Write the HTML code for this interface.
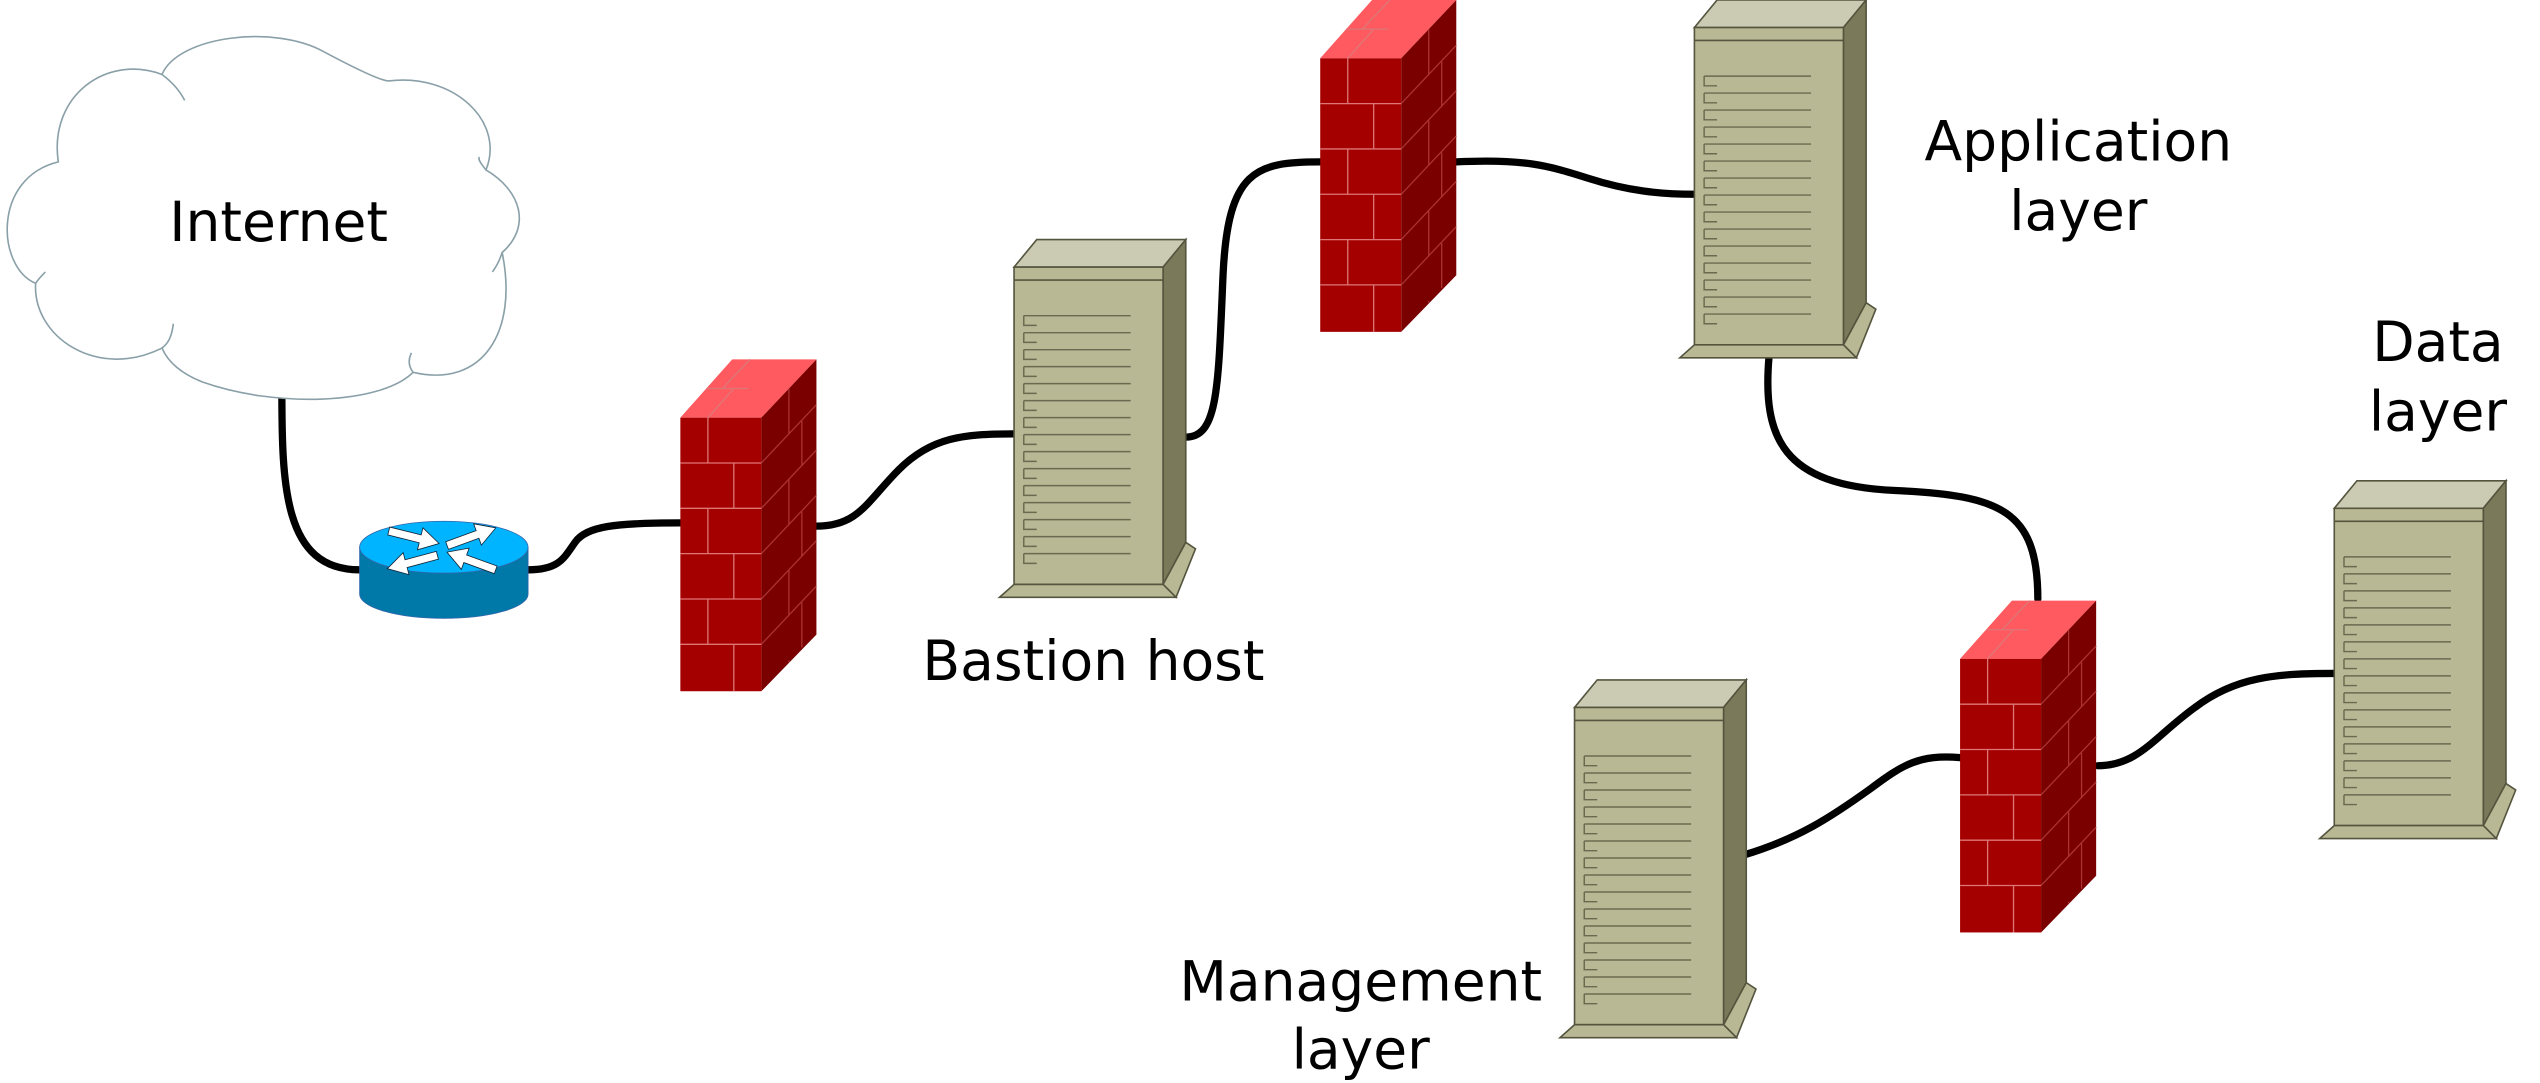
<!DOCTYPE html>
<html><head><meta charset="utf-8"><style>
html,body{margin:0;padding:0;background:#fff;}
svg{display:block;}
text{font-family:"DejaVu Sans","Liberation Sans",sans-serif;font-size:34px;fill:#000;text-anchor:middle;}
</style></head><body>
<svg width="2540" height="1083" viewBox="0 0 1568 669" preserveAspectRatio="none" xmlns="http://www.w3.org/2000/svg">
<defs>
<g id="srv">
  <polygon points="0,0 14,-17 106,-17 92,0" fill="#cbcbb4" stroke="#55553f" stroke-width="1"/>
  <polygon points="92,0 106,-17 106,170 92,196" fill="#7a7a5a" stroke="#55553f" stroke-width="1"/>
  <polygon points="92,196 106,170 112,174 100,204" fill="#b8b894" stroke="#55553f" stroke-width="1"/>
  <rect x="0" y="0" width="92" height="196" fill="#b8b894" stroke="#55553f" stroke-width="1"/>
  <line x1="0" y1="8" x2="92" y2="8" stroke="#55553f" stroke-width="1"/>
  <polygon points="-9,204 100,204 92,196 0,196" fill="#b8b894" stroke="#55553f" stroke-width="1"/>
  <g stroke="#6a6a50" stroke-width="0.9" fill="none">
    <path d="M6,30 H72 M6,30 V36 H14"/><path d="M6,40.5 H72 M6,40.5 V46.5 H14"/>
    <path d="M6,51 H72 M6,51 V57 H14"/><path d="M6,61.5 H72 M6,61.5 V67.5 H14"/>
    <path d="M6,72 H72 M6,72 V78 H14"/><path d="M6,82.5 H72 M6,82.5 V88.5 H14"/>
    <path d="M6,93 H72 M6,93 V99 H14"/><path d="M6,103.5 H72 M6,103.5 V109.5 H14"/>
    <path d="M6,114 H72 M6,114 V120 H14"/><path d="M6,124.5 H72 M6,124.5 V130.5 H14"/>
    <path d="M6,135 H72 M6,135 V141 H14"/><path d="M6,145.5 H72 M6,145.5 V151.5 H14"/>
    <path d="M6,156 H72 M6,156 V162 H14"/><path d="M6,166.5 H72 M6,166.5 V172.5 H14"/>
    <path d="M6,177 H72 M6,177 V183 H14"/>
  </g>
</g>
<g id="fw">
  <polygon points="0,0 32,-36 84,-36 50,0" fill="#ff5a5f"/>
  <polygon points="50,0 84,-36 84,134 50,169" fill="#7a0000"/>
  <rect x="0" y="0" width="50" height="169" fill="#a50000"/>
  <g stroke="#d77" stroke-width="0.8" fill="none">
    <path d="M0,28 H50 M0,56 H50 M0,84 H50 M0,112 H50 M0,140 H50"/>
    <path d="M17,0 V28 M33,28 V56 M17,56 V84 M33,84 V112 M17,112 V140 M33,140 V169"/>
    <path d="M16,-18 H42 M26,-18 L43,-36 M17,0 L33,-18"/>
  </g>
  <g stroke="#a33" stroke-width="0.8" fill="none">
    <path d="M50,28 L84,-8 M50,56 L84,20 M50,84 L84,48 M50,112 L84,76 M50,140 L84,104"/>
    <path d="M67,-18 V10 M67,38 V66 M67,94 V122 M67,150 V151 M75,2 V30 M75,58 V86 M75,114 V142"/>
  </g>
</g>
<polygon id="arr" points="0,-2.5 20,-2.5 20,-7 32,0 20,7 20,2.5 0,2.5" fill="#fff" stroke="#123" stroke-width="0.5"/>
</defs>

<!-- cables -->
<g fill="none" stroke="#000" stroke-width="4.5" stroke-linecap="round">
  <path d="M174,240 C174,300 175,352 222,352"/>
  <path d="M326,352 C345,352 348,345 355,335 C362,325 380,323 420,323"/>
  <path d="M504,325 C530,325 535,310 555,290 C575,270 595,268 626,268"/>
  <path d="M732,270 C752,270 752,240 755,170 C758,105 775,100 815,100"/>
  <path d="M899,100 C940,98 955,102 980,110 C1005,118 1025,120 1046,120"/>
  <path d="M1092,221 C1088,270 1100,300 1170,303 C1235,306 1258,315 1258,370"/>
  <path d="M1210,468 C1185,466 1175,472 1155,487 C1130,505 1110,518 1077,528"/>
  <path d="M1295,473 C1320,473 1330,455 1355,437 C1380,418 1405,416 1441,416"/>
</g>

<!-- cloud -->
<path d="M36,100 C30,60 65,33 100,46 C110,22 170,15 200,32 C215,40 235,50 240,50 C280,45 312,75 300,105 C322,118 328,140 310,156 C320,205 298,240 255,230 C235,250 170,252 125,236 C110,230 103,222 100,215 C60,235 20,208 22,175 C-2,165 -5,110 36,100 Z" fill="#fff" stroke="#8aa0a8" stroke-width="1"/>
<g fill="none" stroke="#8aa0a8" stroke-width="1">
  <path d="M100,46 C108,52 112,58 114,62"/>
  <path d="M300,105 C296,100 295,98 296,97"/><path d="M310,156 C308,162 306,165 304,168"/>
  <path d="M255,230 C252,226 252,222 254,218"/><path d="M100,215 C104,212 106,208 107,200"/>
  <path d="M22,175 C24,172 26,170 28,168"/>
</g>
<text x="172" y="149">Internet</text>

<!-- router -->
<path d="M222,338 L222,367 A52,15 0 0 0 326,367 L326,338 Z" fill="#0078a8" stroke="#36a" stroke-width="0.5"/>
<ellipse cx="274" cy="338" rx="52" ry="16" fill="#00b4ff" stroke="#36a" stroke-width="0.5"/>
<use href="#arr" transform="translate(240,328) rotate(14)"/>
<use href="#arr" transform="translate(276,337) rotate(-20)"/>
<use href="#arr" transform="translate(270,343) rotate(165)"/>
<use href="#arr" transform="translate(306,352) rotate(-160)"/>

<use href="#fw" x="420" y="258"/>
<use href="#fw" x="815" y="36"/>
<use href="#fw" x="1210" y="407"/>

<use href="#srv" x="626" y="165"/>
<use href="#srv" x="1046" y="17"/>
<use href="#srv" x="1441" y="314"/>
<use href="#srv" x="972" y="437"/>

<text x="675" y="420">Bastion host</text>
<text x="1283" y="99">Application</text>
<text x="1283" y="142">layer</text>
<text x="1505" y="223">Data</text>
<text x="1505" y="266">layer</text>
<text x="840" y="618">Management</text>
<text x="840" y="660">layer</text>
</svg>
</body></html>
